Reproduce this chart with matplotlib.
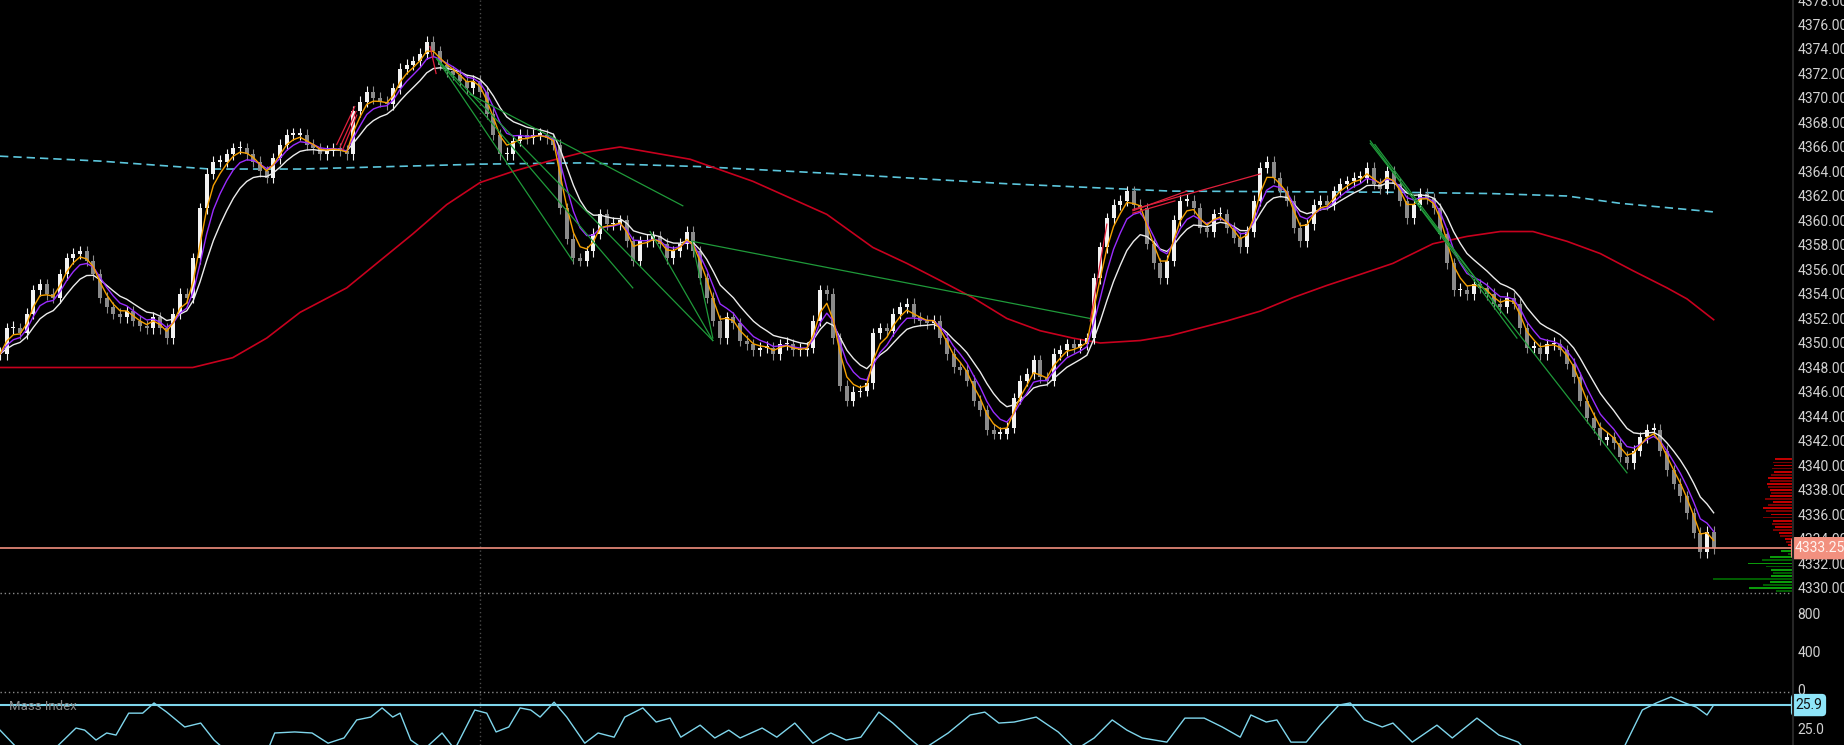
import numpy as np
import pandas as pd
import matplotlib
matplotlib.use('Agg')
import matplotlib.pyplot as plt
from matplotlib.lines import Line2D

plt.rcParams['font.family'] = ['Roboto', 'DejaVu Sans']

# ---- data (x in bars, y in price) ----
closes = [
    4349.1, 4351.2, 4351.2, 4350.8, 4352.4, 4354.3, 4354.8, 4354.0, 4353.7, 4355.6,
    4356.9, 4357.3, 4357.5, 4356.7, 4355.6, 4353.7, 4352.9, 4352.4, 4352.1, 4352.6,
    4351.8, 4351.4, 4351.2, 4352.1, 4351.2, 4350.4, 4352.4, 4354.0, 4353.7, 4356.9,
    4361.0, 4363.8, 4364.8, 4364.8, 4365.4, 4365.9, 4365.9, 4365.4, 4364.8, 4364.0,
    4363.5, 4365.1, 4366.2, 4367.0, 4367.0, 4367.0, 4366.2, 4365.9, 4365.4, 4365.7,
    4365.9, 4365.7, 4365.4, 4368.9, 4369.7, 4370.5, 4370.0, 4369.7, 4369.5, 4370.8,
    4372.4, 4372.7, 4373.0, 4373.6, 4374.6, 4373.8, 4372.7, 4372.2, 4371.9, 4371.4,
    4370.8, 4371.4, 4370.5, 4368.7, 4367.0, 4365.4, 4365.4, 4366.5, 4367.0, 4366.7,
    4367.0, 4367.0, 4366.7, 4366.2, 4361.0, 4358.5, 4356.9, 4356.7, 4357.5, 4358.9,
    4360.5, 4359.7, 4359.7, 4360.0, 4358.3, 4356.7, 4358.3, 4358.3, 4358.7, 4358.1,
    4356.9, 4357.5, 4358.1, 4359.1, 4357.5, 4355.3, 4353.7, 4351.8, 4350.4, 4352.1,
    4351.6, 4350.2, 4349.9, 4349.4, 4349.6, 4349.6, 4349.1, 4349.9, 4349.9, 4349.4,
    4349.4, 4349.6, 4351.8, 4354.3, 4354.0, 4350.4, 4346.5, 4345.3, 4346.0, 4346.1,
    4346.7, 4350.8, 4351.2, 4351.0, 4352.4, 4352.9, 4353.2, 4352.1, 4351.8, 4351.6,
    4351.8, 4350.4, 4349.1, 4348.0, 4347.8, 4346.9, 4345.3, 4344.5, 4342.9, 4342.6,
    4342.6, 4343.1, 4345.5, 4346.9, 4347.5, 4348.6, 4347.2, 4346.9, 4349.1, 4349.4,
    4349.9, 4349.6, 4349.9, 4350.4, 4355.3, 4357.8, 4360.2, 4361.3, 4361.6, 4362.4,
    4361.3, 4361.0, 4358.1, 4356.5, 4355.3, 4356.7, 4360.0, 4361.6, 4361.6, 4361.0,
    4359.4, 4359.1, 4360.5, 4360.5, 4359.4, 4358.6, 4357.8, 4359.1, 4361.6, 4364.3,
    4364.8, 4363.5, 4362.4, 4361.6, 4359.4, 4358.3, 4359.7, 4361.3, 4361.6, 4361.3,
    4362.4, 4363.0, 4363.2, 4363.5, 4363.5, 4364.3, 4363.0, 4362.6, 4364.0, 4363.0,
    4361.6, 4360.2, 4361.3, 4362.2, 4361.8, 4361.0, 4358.9, 4356.5, 4354.3, 4354.3,
    4354.0, 4354.8, 4354.5, 4354.0, 4353.2, 4352.9, 4353.7, 4353.2, 4351.2, 4349.6,
    4349.6, 4349.1, 4349.9, 4349.9, 4349.4, 4348.3, 4347.2, 4345.3, 4343.9, 4343.1,
    4342.1, 4342.3, 4341.8, 4340.7, 4340.2, 4341.2, 4342.3, 4342.9, 4342.9, 4341.2,
    4339.6, 4338.5, 4337.5, 4336.1, 4334.5, 4332.9, 4334.6, 4333.25,
]

# long moving average (red)
ma_red_bar = [0, 28.9, 34.9, 40.0, 45.0, 52.0, 61.9, 67.0, 72.0, 76.9, 82.0, 87.0, 93.0,
              103.5, 112.9, 124.0, 130.9, 136.0, 141.0, 145.9, 151.0, 156.0, 160.9, 165.0,
              171.0, 175.5, 184.0, 189.0, 193.9, 199.0, 204.0, 208.9, 214.9, 220.0, 225.0,
              229.9, 235.0, 240.0, 244.9, 250.0, 253.0, 257.0]
ma_red_val = [4348.0, 4348.0, 4348.8, 4350.4, 4352.5, 4354.5, 4358.9, 4361.3, 4363.1,
              4364.0, 4364.8, 4365.5, 4366.0, 4365.0, 4363.2, 4360.5, 4357.8, 4356.5,
              4355.1, 4353.7, 4352.0, 4351.0, 4350.4, 4350.0, 4350.2, 4350.6, 4351.8,
              4352.6, 4353.7, 4354.7, 4355.6, 4356.5, 4358.1, 4358.7, 4359.1, 4359.1,
              4358.3, 4357.3, 4355.9, 4354.5, 4353.6, 4351.9]

# very long moving average (cyan dashed)
ma_cyan_bar = [0, 15.0, 31.5, 45.0, 72.0, 87.0, 105.0, 126.0, 151.0, 175.5, 210.0,
               223.5, 235.0, 243.0, 257.0]
ma_cyan_val = [4365.25, 4364.85, 4364.2, 4364.2, 4364.6, 4364.7, 4364.4, 4363.8, 4363.0,
               4362.4, 4362.3, 4362.2, 4362.0, 4361.4, 4360.7]

# Mass Index
mass_bar = [0, 2.4, 8.1, 11.4, 12.7, 14.4, 16.0, 17.4, 19.3, 21.4, 23.1, 25.0, 27.7, 30.1,
            32.1, 33.7, 40.2, 41.2, 44.2, 46.8, 49.2, 51.6, 53.5, 55.6, 57.3, 58.9, 60.0,
            61.6, 63.6, 66.3, 68.2, 71.2, 73.0, 74.4, 76.3, 78.0, 79.6, 81.0, 83.1, 85.0,
            87.7, 89.7, 92.1, 93.7, 96.4, 98.4, 100.5, 102.1, 105.0, 107.2, 109.3, 111.0,
            114.3, 116.5, 119.2, 121.9, 124.6, 126.9, 129.1, 131.8, 133.9, 136.2, 138.4,
            142.2, 145.5, 147.7, 149.8, 152.1, 155.4, 158.7, 161.4, 164.1, 166.8, 169.0,
            171.3, 175.0, 177.7, 180.6, 183.3, 186.0, 187.6, 189.9, 191.5, 193.6, 195.9,
            198.0, 200.8, 202.5, 204.6, 207.3, 208.9, 211.8, 215.5, 217.8, 221.5, 224.8,
            227.7, 228.7, 243.4, 246.3, 248.4, 250.6, 252.7, 254.4, 256.0, 257.0]
mass_val = [24.94, 24.3, 24.2, 25.02, 24.94, 24.56, 24.83, 24.75, 25.59, 25.59, 25.98,
            25.63, 25.06, 25.21, 24.56, 24.2, 24.2, 24.83, 24.87, 24.83, 24.44, 24.64,
            25.33, 25.44, 25.79, 25.44, 25.59, 24.56, 24.2, 24.83, 24.2, 25.71, 25.59,
            24.87, 25.06, 25.79, 25.71, 25.44, 26.01, 25.44, 24.44, 24.83, 24.67, 25.44,
            25.79, 25.25, 25.40, 24.67, 25.13, 24.64, 24.94, 24.64, 25.02, 24.67, 25.21,
            24.44, 24.83, 24.56, 24.67, 25.63, 25.21, 24.67, 24.2, 24.83, 25.52, 25.63,
            25.21, 25.25, 25.44, 24.87, 24.2, 24.64, 25.33, 24.94, 24.64, 24.48, 25.40,
            25.40, 25.06, 24.67, 25.52, 25.25, 25.33, 24.48, 24.48, 25.13, 25.90, 25.98,
            25.33, 25.06, 25.21, 24.48, 25.13, 24.64, 25.40, 24.75, 24.48, 24.2, 24.2,
            25.71, 25.98, 26.21, 25.98, 25.82, 25.52, 25.90]

# volume profile on the right edge (sell side above, buy side below)
profile_sell_vol = [18, 20, 19, 21, 19, 22, 25, 23, 26, 25, 23, 22, 23, 28, 20, 25, 30,
                    27, 22, 30, 20, 21, 18, 20, 14, 13, 8, 7, 5]
profile_buy_vol = [12, 5, 23, 31, 45, 27, 22, 20, 22, 80, 23, 30, 44, 17]
profile_sell_top = 4340.5
profile_buy_top = 4333.0
tick_size = 0.25

# drawn trend lines: ((bar0, price0), (bar1, price1))
green_lines = [
    ((65.5, 4373.2), (85.9, 4356.7)),
    ((65.5, 4373.2), (94.9, 4354.5)),
    ((65.5, 4373.2), (106.9, 4350.2)),
    ((70.5, 4370.3), (102.4, 4361.2)),
    ((103.8, 4358.3), (163.5, 4352.0)),
    ((97.5, 4359.1), (106.9, 4350.2)),
    ((103.8, 4358.3), (106.9, 4350.4)),
    ((205.5, 4366.5), (227.5, 4350.4)),
    ((205.5, 4366.3), (244.0, 4339.4)),
    ((206.2, 4366.2), (225.0, 4352.6)),
]
red_lines = [
    ((50.5, 4366.2), (53.2, 4369.3)),
    ((51.0, 4366.0), (53.4, 4368.9)),
    ((51.4, 4365.8), (53.5, 4368.6)),
    ((64.5, 4374.2), (65.4, 4372.0)),
    ((163.5, 4351.8), (166.0, 4359.7)),
    ((169.9, 4360.9), (189.0, 4363.8)),
    ((169.9, 4360.8), (178.0, 4362.4)),
    ((169.9, 4360.6), (176.2, 4361.6)),
]

price_ticks = list(range(4330, 4380, 2))
volume_ticks = [0, 400, 800]
mass_ticks = [25.0]
last_price = 4333.25
last_mass = 25.9
cursor_bar = 72.0

# ---- look ----
BG = '#000000'
LABEL = '#d2d2d2'
UP = '#f2f2f2'
DOWN = '#8a8a8a'
W, H = 1844, 745
RIGHT = 1793 / W
X_MAX = 268.9
FS = 10


def style_axis(ax, ylim, ticks, fmt):
    ax.set_facecolor(BG)
    ax.set_xlim(0, X_MAX)
    ax.set_ylim(*ylim)
    for s in ax.spines.values():
        s.set_visible(False)
    ax.set_xticks([])
    ax.yaxis.tick_right()
    ax.set_yticks(ticks)
    ax.set_yticklabels([fmt.format(t) for t in ticks])
    ax.tick_params(axis='y', length=0, pad=3, labelsize=FS, labelcolor=LABEL)
    ax.axvline(cursor_bar, color='#4a4a4a', lw=1, ls=(0, (1, 2)), zorder=1)


def draw_candles(ax, closes, width=0.6, wick_pad=0.45):
    c = np.asarray(closes)
    o = np.concatenate([[c[0]], c[:-1]])
    x = np.arange(len(c))
    up = c >= o
    lo_body = np.minimum(o, c)
    body = np.maximum(np.abs(c - o), 0.12)
    for mask, col in ((~up, DOWN), (up, UP)):
        ax.vlines(x[mask], lo_body[mask] - wick_pad, (lo_body + body)[mask] + wick_pad,
                  color=col, lw=0.8, zorder=2)
        ax.bar(x[mask], body[mask], width, bottom=lo_body[mask], color=col, lw=0, zorder=2)


fig = plt.figure(figsize=(W / 100, H / 100), dpi=100, facecolor=BG)
ax = fig.add_axes([0, 152 / H, RIGHT, 593 / H])
ax_vol = fig.add_axes([0, 53 / H, RIGHT, 99 / H])
ax_mi = fig.add_axes([0, 0, RIGHT, 53 / H])

style_axis(ax, (4329.59, 4377.87), price_ticks, '{:.2f}')
style_axis(ax_vol, (-20.8, 1007.8), volume_ticks, '{:d}')
style_axis(ax_mi, (24.37, 26.40), mass_ticks, '{:.1f}')

# price panel
ax.plot(ma_cyan_bar, ma_cyan_val, color='#5cc6dc', lw=1.2, ls=(0, (5, 3)), zorder=2)
ax.plot(ma_red_bar, ma_red_val, color='#c8001e', lw=1.2, zorder=2)
draw_candles(ax, closes)

s = pd.Series(closes)
x = np.arange(len(closes))
ax.plot(x, s.ewm(span=9, adjust=False).mean(), color='#ececec', lw=1.0, zorder=3)
ax.plot(x, s.ewm(span=5, adjust=False).mean(), color='#9a2cff', lw=1.0, zorder=3)
ax.plot(x, s.ewm(span=3, adjust=False).mean(), color='#f5a000', lw=1.0, zorder=3)

for (b0, p0), (b1, p1) in green_lines:
    ax.plot([b0, b1], [p0, p1], color='#1f9a3a', lw=0.9, zorder=4)
for (b0, p0), (b1, p1) in red_lines:
    ax.plot([b0, b1], [p0, p1], color='#e0203c', lw=0.9, zorder=4)

# volume profile
scale = 12.0 / max(profile_sell_vol + profile_buy_vol)
for i, v in enumerate(profile_sell_vol):
    col = '#c00000' if i % 2 == 0 else '#7a0000'
    ax.barh(profile_sell_top - i * tick_size, v * scale, height=0.15,
            left=X_MAX - v * scale, color=col, lw=0, zorder=2)
for i, v in enumerate(profile_buy_vol):
    col = '#0b9a0b' if i % 2 == 0 else '#005c00'
    ax.barh(profile_buy_top - i * tick_size, v * scale, height=0.15,
            left=X_MAX - v * scale, color=col, lw=0, zorder=2)

ax.axhline(last_price, color='#f2907f', lw=1.2, zorder=5)
ax.annotate('{:.2f}'.format(last_price), xy=(1, last_price), xycoords=('axes fraction', 'data'),
            xytext=(1.5, 0), textcoords='offset points', va='center', ha='left',
            fontsize=FS, color='#fff4f0', annotation_clip=False,
            bbox=dict(boxstyle='round,pad=0.3,rounding_size=0.3', fc='#f2907f', ec='none'))

# mass index panel
ax_mi.plot(mass_bar, mass_val, color='#7fd6ec', lw=1.0, zorder=3)
ax_mi.axhline(last_mass, color='#7fd6ec', lw=1.5, zorder=3)
ax_mi.text(0.005, 0.72, 'Mass Index', transform=ax_mi.transAxes, color='#8a8a8a',
           fontsize=9.5, va='center', ha='left')
ax_mi.annotate('{:.1f}'.format(last_mass), xy=(1, last_mass), xycoords=('axes fraction', 'data'),
               xytext=(1.5, 0), textcoords='offset points', va='center', ha='left',
               fontsize=FS, color='#111111', annotation_clip=False,
               bbox=dict(boxstyle='round,pad=0.3,rounding_size=0.3', fc='#8ee4f8', ec='none'))

# panel separators and price scale border
for yy in (152 / H, 53 / H):
    fig.add_artist(Line2D([0, RIGHT], [yy, yy], color='#8a8a8a', lw=1, ls=(0, (1, 2))))
fig.add_artist(Line2D([RIGHT, RIGHT], [0, 1], color='#262626', lw=1.5))

fig.savefig('out.png', dpi=100, facecolor=BG)
